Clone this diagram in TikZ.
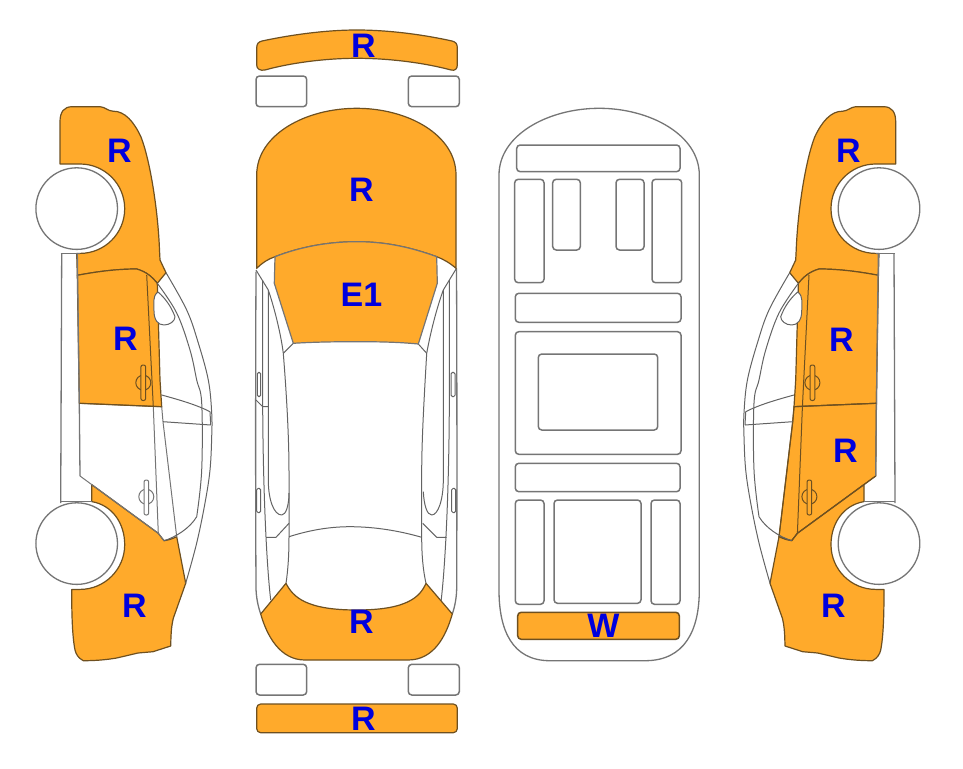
\documentclass[tikz,border=0pt]{standalone}
\usepackage{fontspec}
\setmainfont{Liberation Sans}
\definecolor{paint}{HTML}{FFAA2B}
\definecolor{edge}{HTML}{6E5020}
\definecolor{linegray}{HTML}{757575}
\definecolor{codeblue}{HTML}{0000DD}
\tikzset{
  outline/.style={draw=linegray,line width=1.3pt,line join=round},
  thin outline/.style={draw=linegray!85!black,line width=1pt,line join=round},
  painted/.style={fill=paint,draw=edge,line width=1.2pt,line join=round},
  wheel/.style={fill=white,draw=linegray,line width=1.3pt},
  slot/.style={draw=linegray,line width=1.5pt,rounded corners=3.5pt},
  code/.style={text=codeblue,inner sep=0pt,font=\fontsize{34}{34}\selectfont\bfseries}
}
% side view linework: #1 fill of the lower handle, #2 colour of the lower door seams
\newcommand{\sidelines}[2]{
  % sill and door edges
  \draw[outline] (61.7,253) -- (60.7,503);
  \draw[outline] (60.7,253.4) -- (80,253.4);
  \draw[outline] (60.7,501.6) -- (91.7,501.6);
  \draw[outline] (77.3,253) -- (79.3,403.3) -- (80,476);
  % door seams
  \draw[thin outline,draw=edge] (146.7,275) -- (153.3,406.7);
  \draw[thin outline,draw=#2] (153.3,406.7) -- (158.3,533.3);
  \draw[thin outline,draw=#2] (161.7,406.7) -- (163,421.7) -- (176.7,536.7);
  \draw[thin outline,draw=edge] (79.3,403.3) -- (161.7,406.7);
  \draw[thin outline,draw=#2] (80,476) -- (158.3,533.3) -- (164,540.7);
  % pillars
  \draw[thin outline] plot[smooth,tension=0.6] coordinates {(166,272.7) (186.7,310) (198,342) (208.3,380) (211.7,413) (211.7,436.7) (210,470) (205,503) (196.7,543) (185.7,583.3)};
  \draw[thin outline] plot[smooth,tension=0.6] coordinates {(157.3,283.3) (176.7,313) (190,350) (196.7,380) (201.7,403) (201.7,470) (196.7,516.7)};
  \draw[thin outline] (196.7,516.7) .. controls (190,528) and (176,537) .. (164,540.7);
  \draw[thin outline] (161.7,395) .. controls (180,400) and (197,405) .. (210,411.7);
  \draw[thin outline] (163,421.7) -- (210.7,425);
  \draw[thin outline] (210,411.7) -- (210.7,425);
  % mirror
  \draw[thin outline,fill=white] (158,292) .. controls (152,296) and (154,305) .. (154,311) .. controls (154,320) and (158,325) .. (164,325) .. controls (170,325) and (175,321) .. (175,316.7) .. controls (171,306) and (165,298) .. (158,292);
  % door handles
  \draw[thin outline,draw=edge] (143.3,382.7) circle (7.5pt);
  \draw[thin outline,draw=edge,fill=paint,rounded corners=2pt] (140.9,365) rectangle (145.7,400.5);
  \draw[thin outline,draw=#2] (146.3,496.7) circle (7.5pt);
  \draw[thin outline,draw=#2,fill=#1,rounded corners=2pt] (144,480) rectangle (148.7,515);
  % wheels
  \draw[wheel] (76.7,208.6) circle (40.8pt);
  \draw[wheel] (76.7,543.6) circle (40.8pt);
}
% painted panels of a side view
\newcommand{\frontwing}{
  \draw[painted] (60,164) -- (60,121.7) .. controls (60,112) and (64,106.7) .. (72,106.7) -- (100,106.7) .. controls (105,107) and (108,111) .. (113,111.2) .. controls (125,111) and (134,122) .. (141,137) .. controls (150,160) and (158,210) .. (159.5,250) -- (160,260) -- (166,272.7) -- (157.3,283.3) .. controls (152,277) and (147,272) .. (136.7,269) .. controls (115,269) and (95,272) .. (77.3,275.3) -- (76.7,253.4) -- (80,253.4) .. controls (104.7,253.4) and (124.7,233.4) .. (124.7,208.7) .. controls (124.7,184) and (104.7,164) .. (80,164) -- cycle;
}
\newcommand{\reardoor}{
  \draw[painted] (77.3,275.3) .. controls (95,272) and (115,269) .. (136.7,269) .. controls (147,272) and (152,277) .. (157.3,283.3) -- (160,380) -- (161.7,406.7) -- (79.3,403.3) -- cycle;
}
\newcommand{\rearwing}{
  \draw[painted] (91.7,484.6) -- (158.3,533.3) -- (164,540.7) .. controls (169,540) and (173,538.5) .. (176.7,536.7) -- (185.7,583.3) -- (173.3,618.3) .. controls (171,628) and (171,636) .. (170.7,646) -- (153,651.7) -- (138,653) -- (116.7,658) .. controls (105,660) and (94,660.7) .. (83.3,660.7) .. controls (78,658) and (76,654) .. (75,650) .. controls (72,635) and (71.7,610) .. (71.7,589.4) -- (80,589.4) .. controls (104.7,589.4) and (124.7,569.4) .. (124.7,544.7) .. controls (124.7,523) and (112,505) .. (91.7,501.6) -- cycle;
}
\begin{document}
\begin{tikzpicture}[x=1pt,y=-1pt]
  \useasboundingbox (0,0) rectangle (963,768);

  % left side view
  \frontwing
  \reardoor
  \rearwing
  \sidelines{white}{linegray}

  % right side view, mirrored, with the front door painted too
  \begin{scope}[xshift=955.7pt,xscale=-1]
    \frontwing
    \reardoor
    \draw[painted] (79.3,403.3) -- (161.7,406.7) -- (163,421.7) -- (176.7,536.7) -- (164,540.7) -- (158.3,533.3) -- (80,476) -- cycle;
    \rearwing
    \sidelines{paint}{edge}
  \end{scope}

  % top view: bumpers and lamps
  \draw[painted] (256.7,48.3) .. controls (256.7,44) and (258,42) .. (262,41) .. controls (290,35) and (325,30) .. (356.7,30) .. controls (390,30) and (425,35) .. (452,41) .. controls (456,42) and (457.3,44) .. (457.3,48) -- (457.3,65) .. controls (457.3,69) and (455,71) .. (451,70) .. controls (425,63) and (390,58.3) .. (356.7,58.3) .. controls (325,58.3) and (290,63) .. (265,70) .. controls (260,71) and (256.7,69) .. (256.7,65) -- cycle;
  \draw[slot] (256,76) rectangle (306.7,106.7);
  \draw[slot] (408.3,76) rectangle (459.3,106.7);
  \draw[slot] (256,664.3) rectangle (306.7,695);
  \draw[slot] (408.3,664.3) rectangle (459.3,695);
  \draw[painted,rounded corners=4pt] (256.7,704) rectangle (457.3,732.7);

  % top view: body lines
  \draw[outline] (256,271.7) .. controls (255.5,380) and (255.5,500) .. (256,586.7) .. controls (256,597) and (258,606) .. (260.7,614);
  \draw[outline] (456.5,268.3) .. controls (457,380) and (457,500) .. (456.7,586.7) .. controls (456.7,597) and (455,606) .. (452.3,614);
  \draw[thin outline] (262.7,280) -- (262.7,406.7) .. controls (263,480) and (266,560) .. (270.7,600);
  \draw[thin outline] (449.3,280) -- (449.3,406.7) .. controls (449,480) and (446,560) .. (441,601.7);
  \draw[thin outline] (268.3,290) -- (268.3,480) .. controls (268.3,500) and (274,515) .. (281.7,515) .. controls (286,515) and (289,505) .. (289,493);
  \draw[thin outline] (443.3,290) -- (443.3,480) .. controls (443.3,500) and (438,515) .. (431.7,515) .. controls (427,515) and (424,505) .. (423.3,491.7);
  \draw[thin outline] (256,270) -- (268.3,290) .. controls (275,310) and (281,335) .. (283.3,353.3) .. controls (287,400) and (289,440) .. (289,473) -- (289,536.7) .. controls (289,555) and (288,570) .. (286,583.3);
  \draw[thin outline] (456.5,268.3) -- (443.3,290) .. controls (436,310) and (430,335) .. (426.7,353.3) .. controls (424,400) and (421.7,440) .. (421.7,473) -- (421.7,536.7) .. controls (421.7,555) and (423,570) .. (426,583.3);
  \draw[thin outline] (293.3,343.3) -- (283.3,353.3);
  \draw[thin outline] (418.3,344) -- (426.7,353.3);
  \draw[thin outline] (289,536.7) .. controls (310,530) and (330,526.7) .. (350,526.7) .. controls (375,526.7) and (400,531) .. (421.7,537.3);
  \draw[thin outline] (256,400) -- (262.7,406.7) -- (268.3,406.7);
  \draw[thin outline] (266,537.3) -- (276,537.3) -- (289,523.3);
  \draw[thin outline] (446.7,537.3) -- (436.7,537.3) -- (422.7,523.3);
  \draw[thin outline,rounded corners=1.5pt] (257.3,372.3) rectangle (260.7,396.7);
  \draw[thin outline,rounded corners=1.5pt] (256.7,488.3) rectangle (260.7,512.7);
  \draw[thin outline,rounded corners=1.5pt] (451,372.3) rectangle (455,396.7);
  \draw[thin outline,rounded corners=1.5pt] (451.7,488.3) rectangle (455.7,512.7);

  % top view: painted panels
  \draw[painted] (256.7,268.3) -- (256.7,175) .. controls (256.7,135) and (305,108.3) .. (356.7,108.3) .. controls (408,108.3) and (456,135) .. (456,175) -- (456,268.3) .. controls (450,263) and (443,259) .. (436.7,256.7) .. controls (410,247) and (385,241.7) .. (356.7,241.7) .. controls (328,241.7) and (300,247) .. (275,256.7) .. controls (268,259) and (262,263) .. (256.7,268.3) -- cycle;
  \draw[painted,draw=linegray] (275,256.7) .. controls (300,247) and (328,241.7) .. (356.7,241.7) .. controls (385,241.7) and (410,247) .. (436.7,256.7) -- (437.3,283.3) -- (418.3,344) .. controls (398,342) and (377,341.7) .. (356.7,341.7) .. controls (335,341.7) and (314,342) .. (293.3,343.3) -- (274.3,283.3) -- cycle;
  \draw[painted] (286,583.3) .. controls (293,597) and (306,610) .. (356.7,610) .. controls (407,610) and (420,597) .. (426,583.3) -- (452.3,614) .. controls (446,636) and (434,660) .. (408,660) -- (305,660) .. controls (280,660) and (267,636) .. (260.7,614) -- cycle;

  % floor view
  \draw[outline] (499,590) -- (499,175) .. controls (499,135) and (548,108.3) .. (599.3,108.3) .. controls (650,108.3) and (699.3,135) .. (699.3,175) -- (699.3,590) .. controls (699.3,630) and (685,660.7) .. (645,660.7) -- (550,660.7) .. controls (512,660.7) and (499,630) .. (499,590) -- cycle;
  \draw[slot] (516.7,145) rectangle (680,171.7);
  \draw[slot] (514.7,179.3) rectangle (544,282.7);
  \draw[slot] (552.7,179.3) rectangle (580.3,250);
  \draw[slot] (616,179.3) rectangle (644,250);
  \draw[slot] (652,179.3) rectangle (681.7,282.7);
  \draw[slot] (515.3,293.3) rectangle (681,322.3);
  \draw[slot] (515.3,331.7) rectangle (681,454.3);
  \draw[slot] (538.3,354) rectangle (657.7,430);
  \draw[slot] (515.3,463.3) rectangle (680,491.7);
  \draw[slot] (515.3,500) rectangle (544,604.3);
  \draw[slot] (554,500) rectangle (641,603.3);
  \draw[slot] (651,500) rectangle (680,604.3);
  \draw[slot,fill=paint,draw=edge] (517.7,612.3) rectangle (679.3,639.3);

  % damage codes
  \node[code] (bumperfront) at (363.5,46) {R};
  \node[code] (hood) at (361.5,190) {R};
  \node[code] (windshield) at (361.5,295) {E1};
  \node[code] (trunk) at (361.5,622) {R};
  \node[code] (bumperrear) at (363.5,719) {R};
  \node[code] (floorrear) at (603.5,626) {W};
  \node[code] (leftfront) at (119.5,151) {R};
  \node[code] (leftdoor) at (125.5,339) {R};
  \node[code] (leftrear) at (134.5,606) {R};
  \node[code] (rightfront) at (848.5,151) {R};
  \node[code] (rightdoor) at (841.5,340) {R};
  \node[code] (rightlower) at (845.5,451) {R};
  \node[code] (rightrear) at (833.5,606) {R};
\end{tikzpicture}
\end{document}
